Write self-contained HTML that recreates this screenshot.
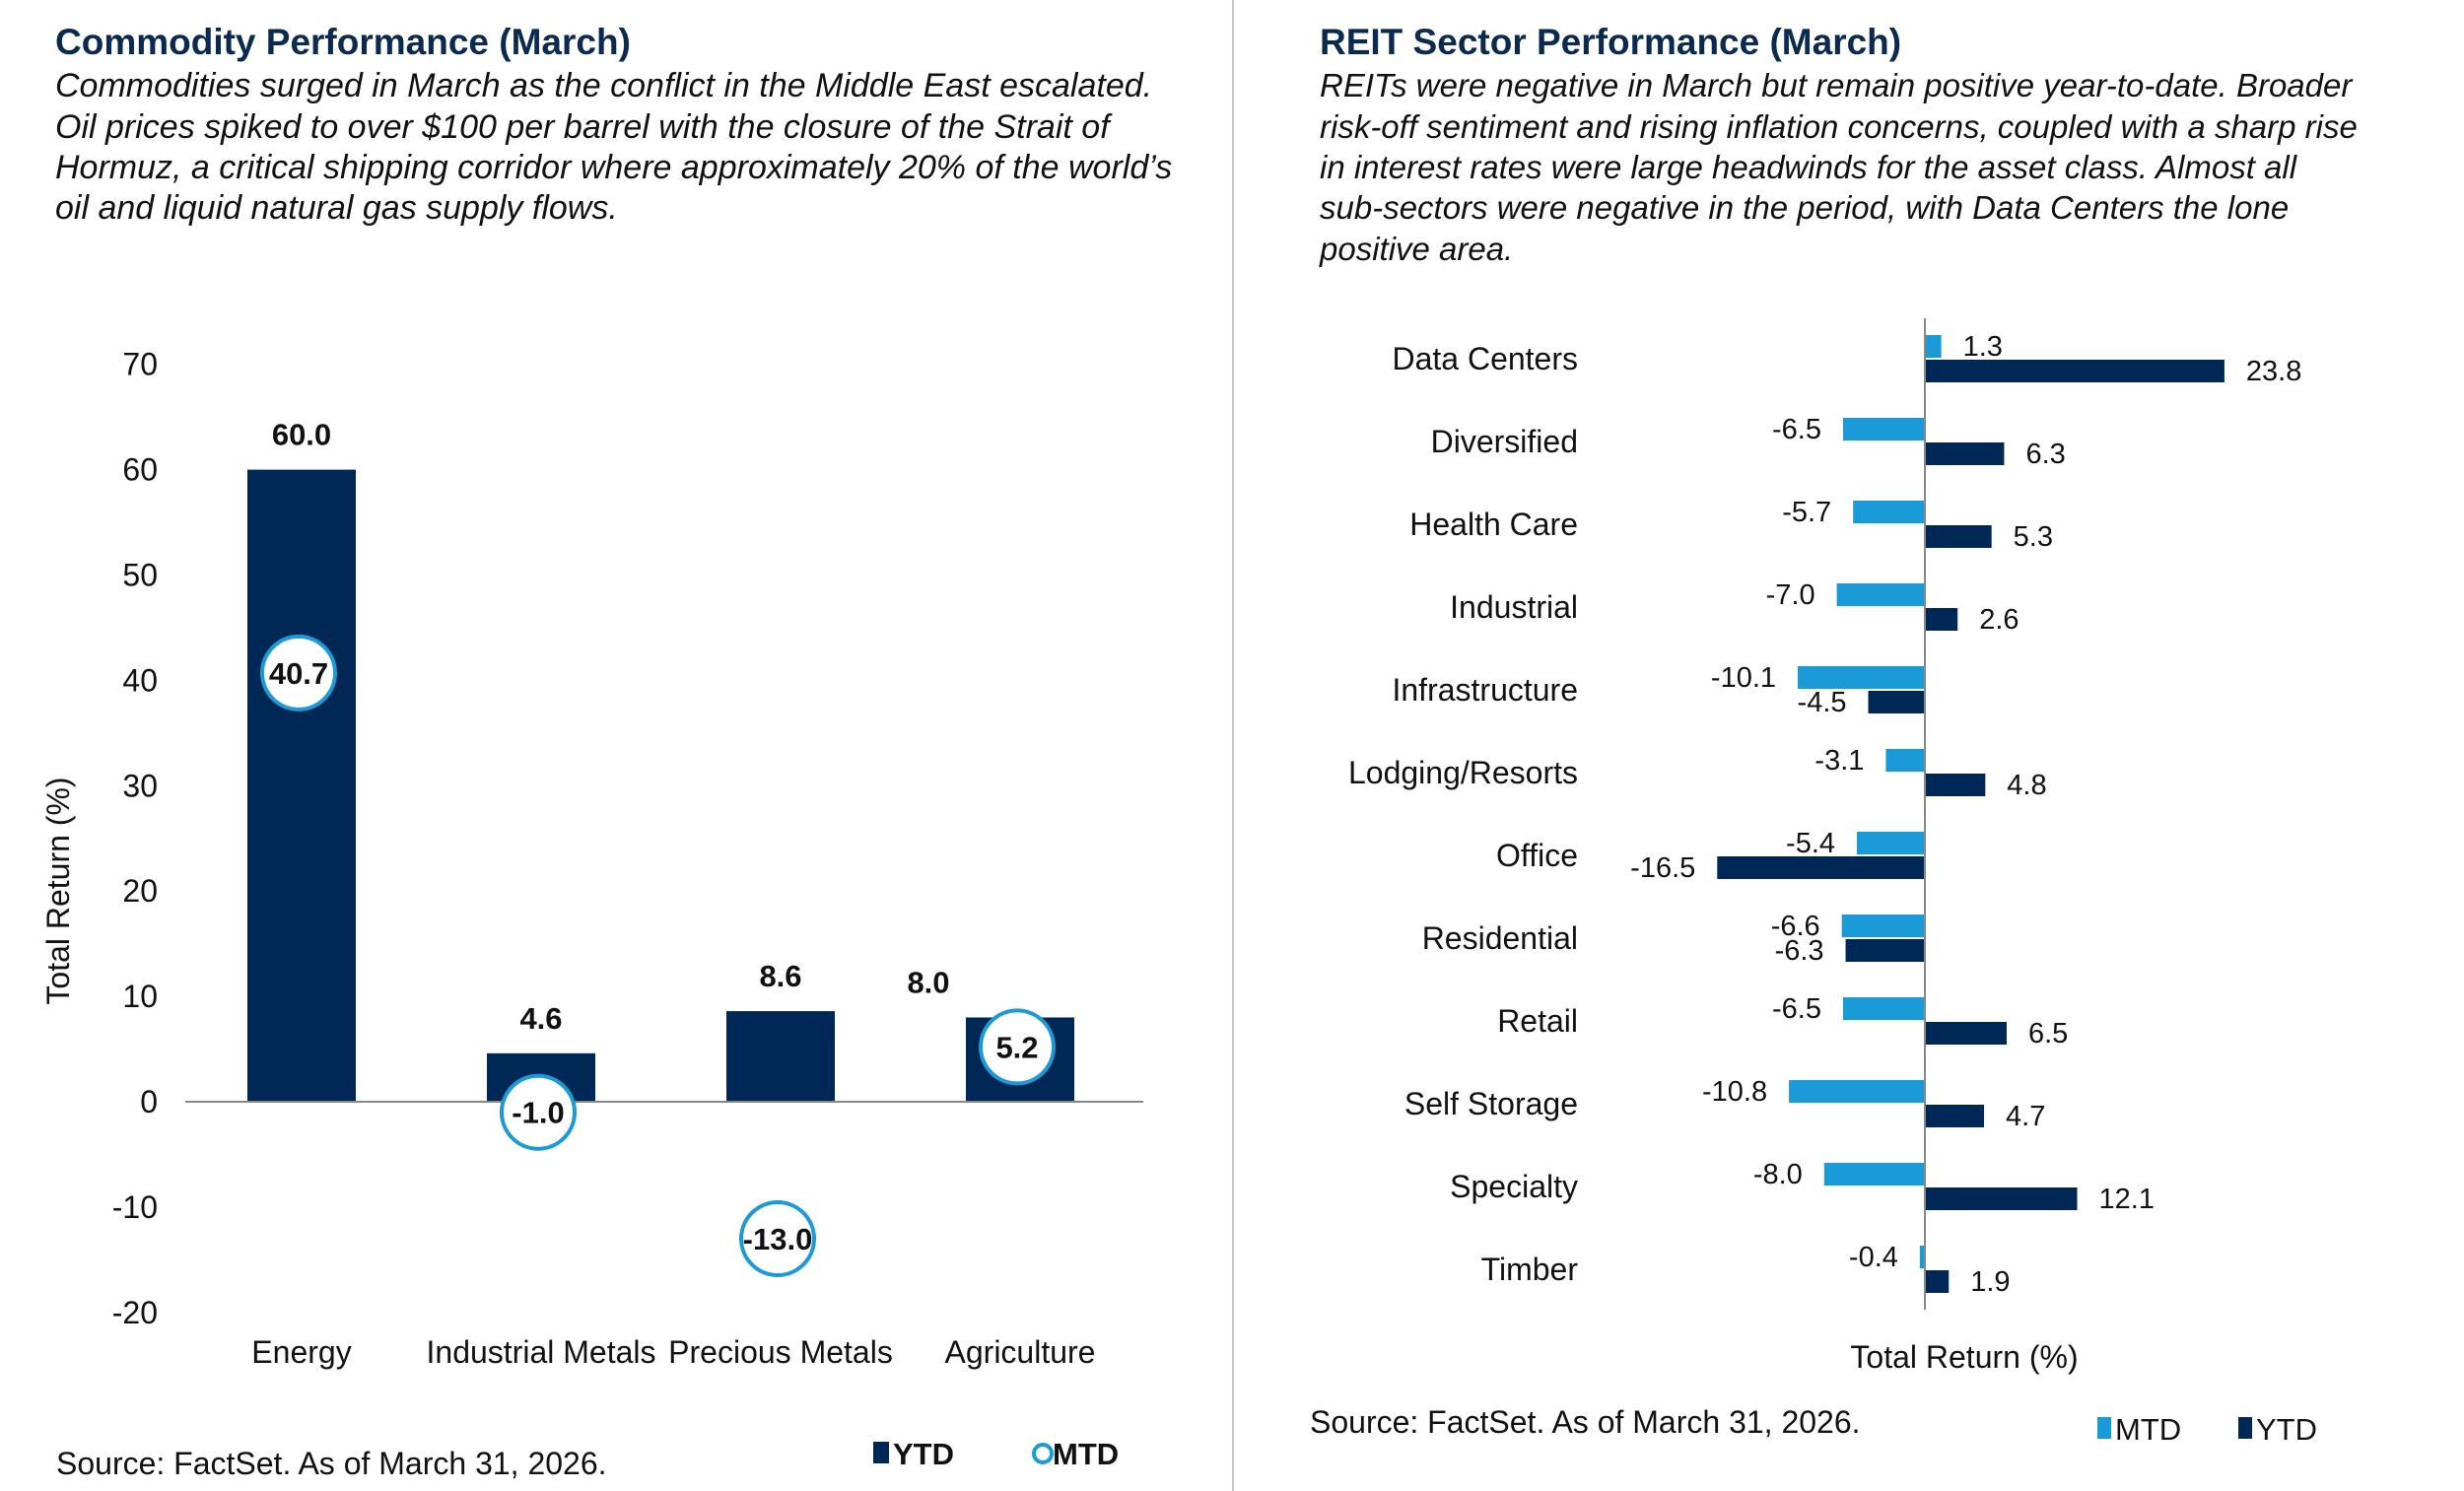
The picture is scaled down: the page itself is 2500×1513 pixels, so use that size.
<!DOCTYPE html>
<html><head><meta charset="utf-8"><style>
body{margin:0;background:#fff}
svg{display:block;font-family:"Liberation Sans",Arial,sans-serif}
</style></head><body>
<svg id="s" width="2500" height="1513" viewBox="0 0 2500 1513">
<line x1="1251" y1="0" x2="1251" y2="1513" stroke="#c8c8c8" stroke-width="2"/>
<text x="56" y="55" font-size="37" font-weight="bold" fill="#0b2a4f">Commodity Performance (March)</text>
<g font-size="34" font-style="italic" fill="#111">
<text x="56" y="98">Commodities surged in March as the conflict in the Middle East escalated.</text>
<text x="56" y="140">Oil prices spiked to over $100 per barrel with the closure of the Strait of</text>
<text x="56" y="181">Hormuz, a critical shipping corridor where approximately 20% of the world’s</text>
<text x="56" y="222">oil and liquid natural gas supply flows.</text>
</g>
<text x="1339" y="55" font-size="37" font-weight="bold" fill="#0b2a4f">REIT Sector Performance (March)</text>
<g font-size="33" font-style="italic" fill="#111">
<text x="1339" y="98">REITs were negative in March but remain positive year-to-date. Broader</text>
<text x="1339" y="140">risk-off sentiment and rising inflation concerns, coupled with a sharp rise</text>
<text x="1339" y="181">in interest rates were large headwinds for the asset class. Almost all</text>
<text x="1339" y="222">sub-sectors were negative in the period, with Data Centers the lone</text>
<text x="1339" y="264">positive area.</text>
</g>
<g id="left"></g><g id="right"></g>
<text x="57" y="1496" font-size="32" fill="#111">Source: FactSet. As of March 31, 2026.</text>
<rect x="886" y="1463" width="16" height="22" fill="#002856"/>
<text x="906" y="1486" font-size="31" font-weight="bold" fill="#111">YTD</text>
<circle cx="1058" cy="1475" r="9" fill="#fff" stroke="#1a9ad6" stroke-width="4"/>
<text x="1068" y="1486" font-size="31" font-weight="bold" fill="#111">MTD</text>
<text x="1329" y="1454" font-size="32" fill="#111">Source: FactSet. As of March 31, 2026.</text>
<rect x="2128" y="1438" width="14" height="22" fill="#1a9ad6"/>
<text x="2146" y="1461" font-size="31" fill="#111">MTD</text>
<rect x="2271" y="1438" width="14" height="22" fill="#002856"/>
<text x="2289" y="1461" font-size="31" fill="#111">YTD</text>
</svg>
<script>
const commodities=["Energy","Industrial Metals","Precious Metals","Agriculture"];
const commodityYTD=[60.0,4.6,8.6,8.0];
const commodityMTD=[40.7,-1.0,-13.0,5.2];
const yTicks=[70,60,50,40,30,20,10,0,-10,-20];
const sectors=["Data Centers","Diversified","Health Care","Industrial","Infrastructure","Lodging/Resorts","Office","Residential","Retail","Self Storage","Specialty","Timber"];
const sectorMTD=[1.3,-6.5,-5.7,-7.0,-10.1,-3.1,-5.4,-6.6,-6.5,-10.8,-8.0,-0.4];
const sectorYTD=[23.8,6.3,5.3,2.6,-4.5,4.8,-16.5,-6.3,6.5,4.7,12.1,1.9];
const NS="http://www.w3.org/2000/svg";
function mk(tag,attrs,parent,txt){const e=document.createElementNS(NS,tag);for(const k in attrs)e.setAttribute(k,attrs[k]);if(txt!==undefined)e.textContent=txt;parent.appendChild(e);return e;}
// left chart
const L=document.getElementById('left');
const y=v=>1118-v*10.69;
const xc=i=>306+i*243;
yTicks.forEach(t=>{const e=mk('text',{x:160,y:y(t)+11,'text-anchor':'end','font-size':32,fill:'#111'},L,String(t));

});
const yt=mk('text',{x:70,y:904,'text-anchor':'middle','font-size':32,fill:'#111',transform:'rotate(-90 70 904)'},L,'Total Return (%)');


commodities.forEach((c,i)=>{
 const v=commodityYTD[i];
 const b=mk('rect',{x:xc(i)-55,y:Math.min(y(v),y(0)),width:110,height:Math.abs(y(v)-y(0)),fill:'#002856'},L);
 
 
 const lx=i===3?xc(i)-93:xc(i);
 const lb=mk('text',{x:lx,y:y(Math.max(v,0))-25,'text-anchor':'middle','font-size':31,'font-weight':'bold',fill:'#111'},L,v.toFixed(1));
 
 
 const cl=mk('text',{x:xc(i),y:1383,'text-anchor':'middle','font-size':32,fill:'#111'},L,c);
 
 
});
const ax=mk('line',{x1:188,y1:y(0),x2:1160,y2:y(0),stroke:'#888','stroke-width':2},L);


commodities.forEach((c,i)=>{
 const m=commodityMTD[i];
 const ci=mk('circle',{cx:xc(i)-3,cy:y(m),r:37,fill:'#fff',stroke:'#1a9ad6','stroke-width':4},L);
 
 
 const t=mk('text',{x:xc(i)-3,y:y(m)+11,'text-anchor':'middle','font-size':31,'font-weight':'bold',fill:'#111'},L,m.toFixed(1));
 
 
});
// right chart
const R=document.getElementById('right');
const x0=1953,k=12.77;
const yc=i=>364+i*84;
sectors.forEach((s,i)=>{
 const t=mk('text',{x:1601,y:yc(i)+11,'text-anchor':'end','font-size':32,fill:'#111'},R,s);
 
 
 [[sectorMTD[i],'#1a9ad6',yc(i)-24,'mtd'],[sectorYTD[i],'#002856',yc(i)+1,'ytd']].forEach(([v,col,top,nm])=>{
  const bx=v>=0?x0:x0+v*k;
  const r=mk('rect',{x:bx,y:top,width:Math.abs(v)*k,height:23,fill:col},R);
  
  
  const lx=v>=0?x0+v*k+22:x0+v*k-22;
  const l=mk('text',{x:lx,y:top+21,'text-anchor':v>=0?'start':'end','font-size':29,fill:'#111'},R,v.toFixed(1));
  
  
 });
});
const ra=mk('line',{x1:x0,y1:323,x2:x0,y2:1329,stroke:'#888','stroke-width':2},R);


const xt=mk('text',{x:1993,y:1388,'text-anchor':'middle','font-size':32,fill:'#111'},R,'Total Return (%)');


</script>
</body></html>
